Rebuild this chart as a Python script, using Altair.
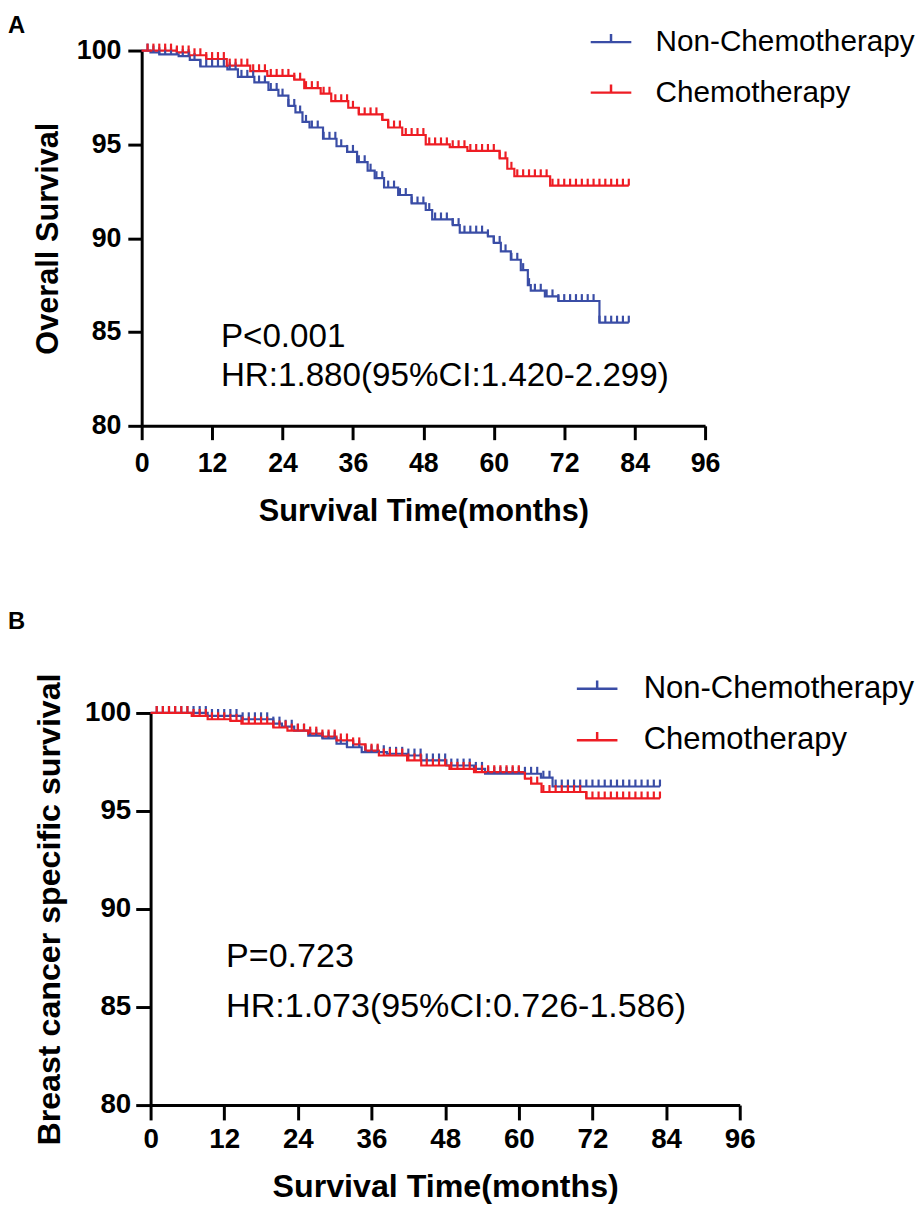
import altair as alt
import pandas as pd

GROUPS = ["Non-Chemotherapy", "Chemotherapy"]
COLORS = ["#3A4DA6", "#EE1D24"]

X_TICKS = [0, 12, 24, 36, 48, 60, 72, 84, 96]
Y_TICKS = [80, 85, 90, 95, 100]

# Panel A: Overall survival (step curves)
A_NON_T = [0, 1.5, 3, 6.3, 8.2, 10, 14.6, 16.4, 19.2, 21.6, 23.3, 25, 26.2, 27.4, 28.6, 30.9,
           33.2, 35, 36.7, 38.5, 39.7, 41.3, 43.7, 46, 48.4, 49.5, 53, 54.2, 59, 60, 61.2,
           62.9, 64.6, 65.8, 66.3, 68.7, 71, 78, 83]
A_NON_S = [100, 99.9, 99.8, 99.7, 99.5, 99.15, 99.0, 98.6, 98.3, 97.9, 97.6, 97.05, 96.7, 96.2,
           95.9, 95.3, 94.9, 94.6, 94.05, 93.6, 93.2, 92.7, 92.3, 91.85, 91.5, 91.0, 90.7, 90.3,
           90.1, 89.75, 89.3, 88.85, 88.3, 87.5, 87.2, 86.9, 86.65, 85.5, 85.5]
A_CHE_T = [0, 6, 8.1, 11, 14.5, 18.5, 21.4, 26, 27.7, 30.5, 32.3, 35.2, 37, 41, 42, 44.4,
           48.4, 52.5, 55.5, 61, 62.3, 63.5, 69.6, 83]
A_CHE_S = [100, 99.9, 99.75, 99.55, 99.2, 98.9, 98.65, 98.45, 98.0, 97.7, 97.3, 96.95, 96.6,
           96.3, 95.9, 95.5, 95.0, 94.85, 94.65, 94.25, 93.7, 93.3, 92.8, 92.8]

# Panel B: Breast cancer specific survival
B_NON_T = [0, 9.3, 14.8, 20, 21.4, 23.4, 25.7, 28, 30.3, 32, 34.4, 38.5, 41.8, 44.1, 48.2,
           52.7, 54.5, 63.6, 65.5, 83]
B_NON_S = [100, 99.85, 99.68, 99.46, 99.3, 99.1, 98.84, 98.7, 98.43, 98.25, 98.0, 97.92,
           97.83, 97.58, 97.32, 97.15, 96.9, 96.7, 96.25, 96.25]
B_CHE_T = [0, 6.7, 9.3, 13, 14.8, 20, 22.3, 25.7, 28, 30.3, 33, 35, 37.2, 41.8, 44.1, 48.7,
           52.7, 61, 62, 63.7, 71, 83]
B_CHE_S = [100, 99.85, 99.68, 99.6, 99.46, 99.26, 99.1, 98.95, 98.8, 98.6, 98.4, 98.08, 97.83,
           97.58, 97.32, 97.15, 96.98, 96.65, 96.4, 95.97, 95.64, 95.64]

# censoring marks (months)
CENSOR_MONTHS = [1, 2, 3, 4, 5, 6, 7, 8, 9, 10, 11, 12, 13, 14, 15, 16, 17, 18, 19, 20,
                 21, 22, 23, 24, 25, 26, 27, 28, 29, 30, 31, 32, 33, 34, 35, 36, 37, 38, 39,
                 40, 41, 42, 43, 44, 45, 46, 47, 48, 49, 50, 51, 52, 53, 54, 55, 56, 57, 58,
                 59, 60, 61, 62, 63, 64, 65, 66, 67, 68, 69, 70, 71, 72, 73, 74, 75, 76, 77,
                 78, 79, 80, 81, 82, 83]

A_NOTES = ["P<0.001", "HR:1.880(95%CI:1.420-2.299)"]
A_NOTE_X = [13.5, 13.5]
A_NOTE_Y = [84.75, 82.64]
B_NOTES = ["P=0.723", "HR:1.073(95%CI:0.726-1.586)"]
B_NOTE_X = [12.3, 12.3]
B_NOTE_Y = [87.54, 85.0]

FONT = "Liberation Sans"


def step_value(ts, ss, t):
    v = ss[0]
    for ti, si in zip(ts, ss):
        if ti <= t:
            v = si
        else:
            break
    return v


def panel(curves, y_title, notes, note_x, note_y, letter, w, h, shift, st):
    rows, cens = [], []
    for g, (ts, ss) in zip(GROUPS, curves):
        for t, v in zip(ts, ss):
            rows.append({"group": g, "t": t, "s": v})
        for c in CENSOR_MONTHS:
            if c <= ts[-1]:
                cens.append({"group": g, "t": c, "s": step_value(ts, ss, c)})
    df = pd.DataFrame(rows)
    dc = pd.DataFrame(cens)
    dn = pd.DataFrame({"label": notes, "t": note_x, "s": note_y})

    xs = alt.Scale(domain=[0, 96], nice=False, zero=False, range=[-shift, w - shift])
    ys = alt.Scale(domain=[80, 100], nice=False, zero=False)
    cs = alt.Scale(domain=GROUPS, range=COLORS)
    axis_common = dict(domainColor="black", domainWidth=3, tickColor="black", tickWidth=3,
                       tickSize=st["tick"], labelFont=FONT, labelFontSize=st["lab"],
                       labelFontWeight="bold", labelColor="black", labelFlush=False,
                       titleFont=FONT, titleFontSize=st["title"], titleFontWeight="bold",
                       titleColor="black", grid=False)
    xax = alt.Axis(values=X_TICKS, title="Survival Time(months)", labelPadding=st["xlp"],
                   titlePadding=st["xtp"], **axis_common)
    yax = alt.Axis(values=Y_TICKS, title=y_title, labelPadding=st["ylp"],
                   titlePadding=st["ytp"], offset=shift, **axis_common)

    legend = alt.Legend(title=None, orient="none", legendX=st["legx"], legendY=st["legy"],
                        direction="vertical", symbolType="M-1,0L1,0M0,0L0,-0.4",
                        symbolSize=1681, symbolStrokeWidth=2.5, symbolFillColor="transparent",
                        labelFont=FONT, labelFontSize=st["legfs"], labelColor="black",
                        labelOffset=st["lego"], rowPadding=14, labelLimit=600, padding=0)

    lines = alt.Chart(df).mark_line(interpolate="step-after", strokeWidth=2.2).encode(
        x=alt.X("t:Q", scale=xs, axis=xax),
        y=alt.Y("s:Q", scale=ys, axis=yax),
        color=alt.Color("group:N", scale=cs, legend=legend),
        detail="group:N",
    )
    ticks = alt.Chart(dc).mark_tick(orient="vertical", size=7, thickness=2.2, yOffset=-3.5,
                                    opacity=1).encode(
        x=alt.X("t:Q", scale=xs),
        y=alt.Y("s:Q", scale=ys),
        color=alt.Color("group:N", scale=cs, legend=None),
    )
    text = alt.Chart(dn).mark_text(align="left", baseline="middle", font=FONT,
                                   fontSize=st["note"], color="black").encode(
        x=alt.X("t:Q", scale=xs),
        y=alt.Y("s:Q", scale=ys),
        text="label:N",
    )
    lab = alt.Chart(pd.DataFrame({"l": [letter]})).mark_text(
        align="left", baseline="top", font=FONT, fontSize=24, fontWeight="bold",
        color="black").encode(x=alt.value(st["letx"]), y=alt.value(st["lety"]), text="l:N")
    return alt.layer(lines, ticks, text, lab).properties(width=w, height=h)


STYLE_A = dict(tick=14, lab=27, title=31, xlp=11, xtp=21, ylp=7, ytp=12,
               legx=443, legy=-30.5, legfs=30, lego=23, note=33.5, letx=-144, lety=-37)
STYLE_B = dict(tick=15, lab=28, title=32.5, xlp=6, xtp=17, ylp=5, ytp=18,
               legx=429, legy=-46.5, legfs=31.3, lego=25, note=34.4, letx=-144, lety=-104)

pa = panel([(A_NON_T, A_NON_S), (A_CHE_T, A_CHE_S)], "Overall Survival",
           A_NOTES, A_NOTE_X, A_NOTE_Y, "A", 569, 379, 9, STYLE_A)
pb = panel([(B_NON_T, B_NON_S), (B_CHE_T, B_CHE_S)], "Breast cancer specific survival",
           B_NOTES, B_NOTE_X, B_NOTE_Y, "B", 595, 396, 0, STYLE_B)

chart = alt.concat(pa, pb, columns=1, spacing=84).resolve_scale(
    color="independent", x="independent", y="independent"
).resolve_legend(color="independent").properties(
    padding={"left": 0, "top": 0, "right": 0, "bottom": 0}
).configure(font=FONT).configure_view(stroke=None, strokeWidth=0)

chart.save("out.html", embed_options={"renderer": "svg", "actions": False})
